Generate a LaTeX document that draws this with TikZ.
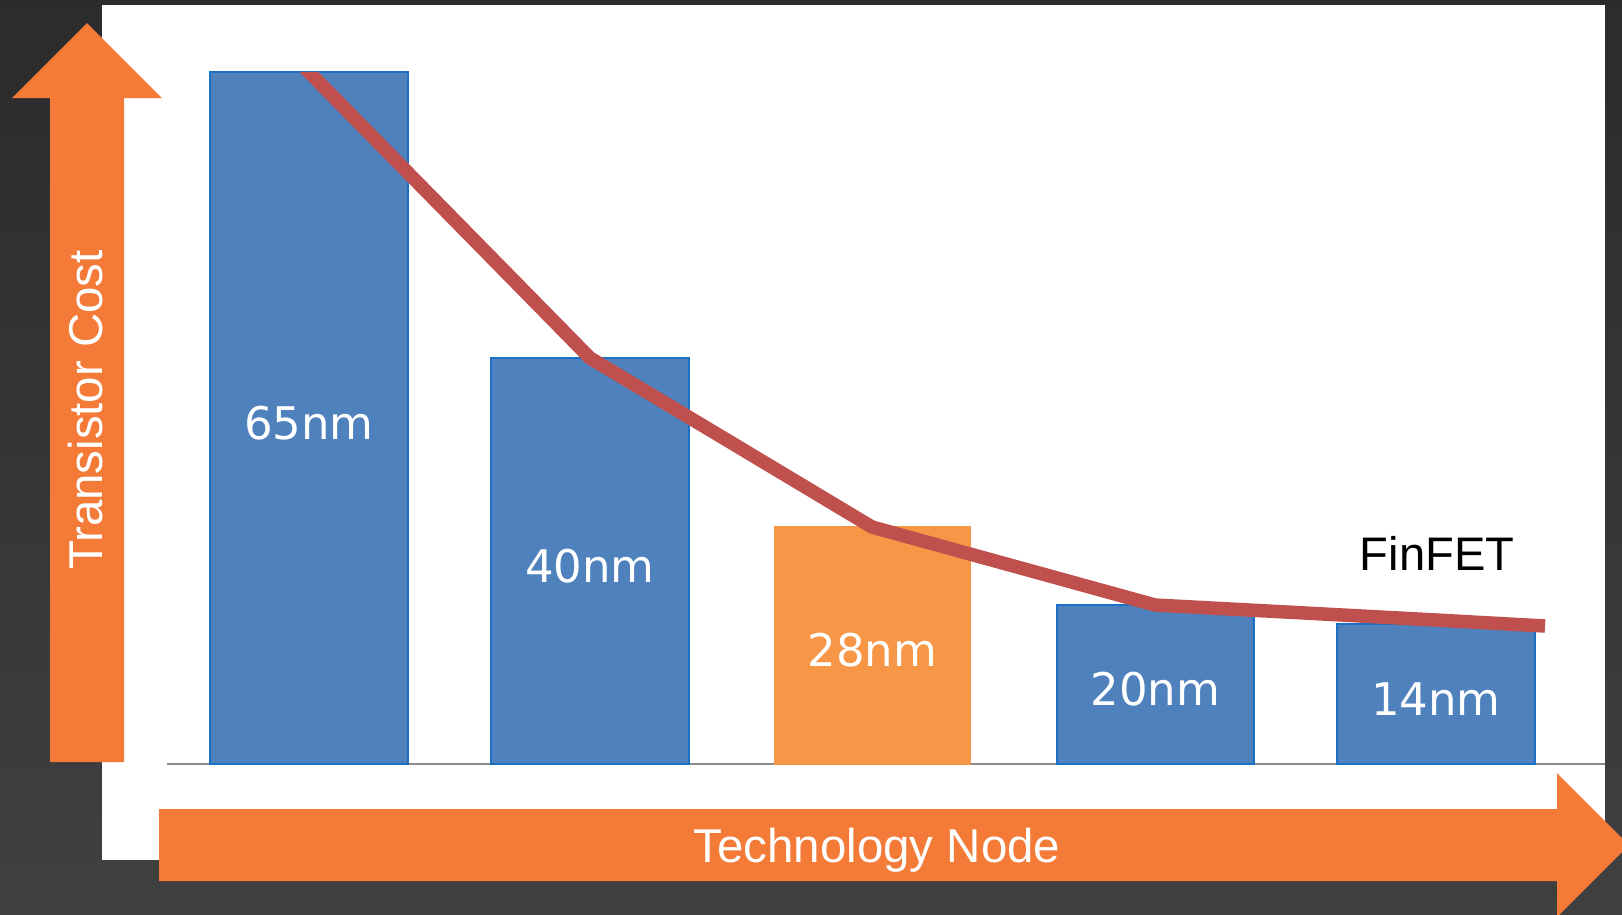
\documentclass[tikz,border=0pt]{standalone}
\usepackage{fontspec}
\setmainfont{Liberation Sans}
\newfontfamily\barfont{DejaVu Sans}
\usetikzlibrary{positioning}

\definecolor{barblue}{HTML}{4F81BD}
\definecolor{baredge}{HTML}{1A70C4}
\definecolor{barorange}{HTML}{F79646}
\definecolor{axisorange}{HTML}{F47A37}
\definecolor{costred}{HTML}{C0504D}

\tikzset{
    bar/.style={draw=baredge, line width=0.6pt, fill=barblue},
    barlabel/.style={text=white, font=\barfont\fontsize{12.8}{15}\selectfont},
    axislabel/.style={text=white, font=\fontsize{13.5}{16}\selectfont, anchor=base}
}

\begin{document}
\begin{tikzpicture}
    \clip (0,0) rectangle (16.22,-9.14);
    \shade [top color=black!83, bottom color=black!75] (0,0) rectangle (16.22,-9.14);
    \fill [white] (1.02,-0.05) rectangle (16.05,-8.60);

    % axis arrows
    \fill [axisorange] (0.50,-7.62) -- (0.50,-0.98) -- (0.12,-0.98) -- (0.87,-0.23)
        -- (1.62,-0.98) -- (1.24,-0.98) -- (1.24,-7.62) -- cycle;
    \node [axislabel, rotate=90] (cost) at (1.02,-4.10) {Transistor Cost};

    \fill [axisorange] (1.59,-8.09) -- (15.57,-8.09) -- (15.57,-7.73) -- (16.29,-8.45)
        -- (15.57,-9.17) -- (15.57,-8.81) -- (1.59,-8.81) -- cycle;
    \node [axislabel] (tech) at (8.77,-8.62) {Technology Node};

    \draw [black!45, line width=0.6pt] (1.67,-7.64) -- (16.05,-7.64);

    \begin{scope}
        \draw [bar] (2.10,-7.64) rectangle (4.08,-0.72) node[midway, barlabel, yshift=-0.05cm] {65nm};
        \draw [bar] (4.91,-7.64) rectangle (6.89,-3.58) node[midway, barlabel, yshift=-0.05cm] {40nm};
        \draw [bar, draw=barorange, fill=barorange] (7.75,-7.64) rectangle (9.70,-5.27) node[midway, barlabel, yshift=-0.05cm] {28nm};
        \draw [bar] (10.57,-7.64) rectangle (12.54,-6.05) node[midway, barlabel, yshift=-0.05cm] {20nm};
        \draw [bar] (13.37,-7.64) rectangle (15.35,-6.24) node[midway, barlabel, yshift=-0.05cm] {14nm};
    \end{scope}

    % cost curve through the bar tops
    \coordinate (start) at (2.99,-0.62);
    \coordinate (n65) at (3.09,-0.72);
    \coordinate (n40) at (5.90,-3.58);
    \coordinate (n28) at (8.72,-5.27);
    \coordinate (n20) at (11.55,-6.05);
    \coordinate (n14) at (14.36,-6.20);
    \coordinate (stop) at (15.45,-6.26);
    \begin{scope}
        \clip (2.10,-0.72) rectangle (16.05,-7.64);
        \draw [costred, line width=0.135cm, line join=round]
            (start) -- (n65) -- (n40) -- (n28) -- (n20) -- (n14) -- (stop);
    \end{scope}

    \node [anchor=base, font=\fontsize{13.4}{16}\selectfont] (finfet) at (14.37,-5.70) {FinFET};
\end{tikzpicture}
\end{document}
